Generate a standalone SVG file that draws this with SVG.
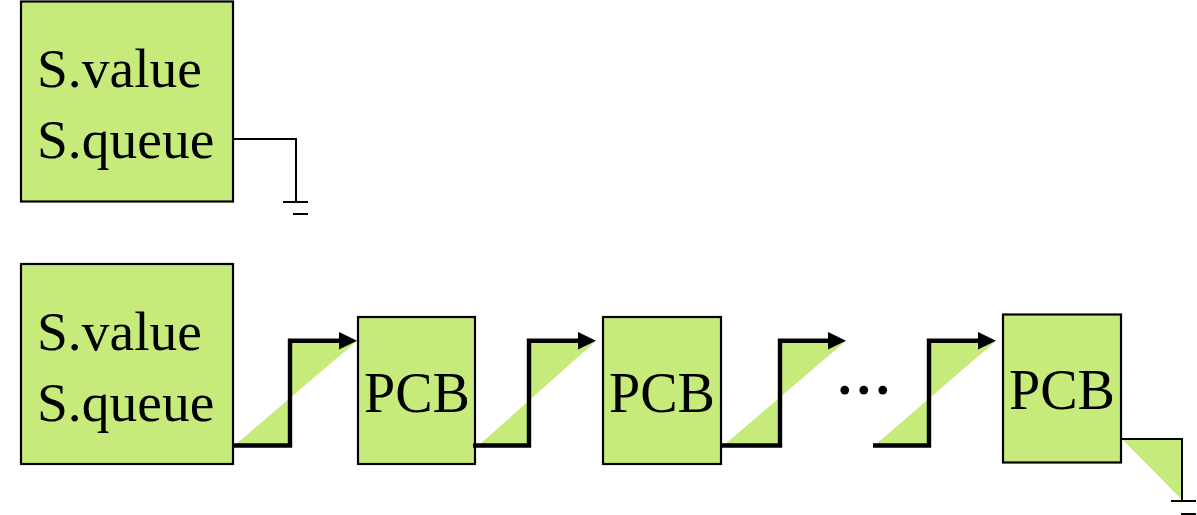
<svg xmlns="http://www.w3.org/2000/svg" width="1197" height="515" viewBox="0 0 1197 515">
<style>
.box{fill:#C7EB7B;stroke:#000;stroke-width:2.2}
.lbl{font-family:"Liberation Serif","Times New Roman",serif;font-size:55.5px;fill:#000}
.pcb{font-family:"Liberation Serif","Times New Roman",serif;font-size:56px;fill:#000;text-anchor:middle}
.dots{font-family:"Liberation Serif","Times New Roman",serif;font-size:74px;fill:#000;letter-spacing:0.5px}
.thick{fill:none;stroke:#000;stroke-width:4.4;stroke-linejoin:miter}
.thin{fill:none;stroke:#000;stroke-width:2}
.tri{fill:#C7EB7B;stroke:none}
.head{fill:#000}
</style>
<g id="sem1">
<rect class="box" x="21" y="1.5" width="212" height="200"/>
<text class="lbl" x="37" y="87">S.value</text>
<text class="lbl" x="37" y="158">S.queue</text>
</g>
<g id="sem2">
<rect class="box" x="21" y="264" width="212" height="200"/>
<text class="lbl" x="37" y="350">S.value</text>
<text class="lbl" x="37" y="421">S.queue</text>
</g>
<g id="pcb1">
<rect class="box" x="358" y="317" width="117" height="147"/>
<text class="pcb" x="417" y="412">PCB</text>
</g>
<g id="pcb2">
<rect class="box" x="603" y="317" width="118" height="147"/>
<text class="pcb" x="662" y="412">PCB</text>
</g>
<g id="pcb3">
<rect class="box" x="1003" y="314.5" width="118" height="148"/>
<text class="pcb" x="1062" y="409">PCB</text>
</g>
<g id="ellipsis">
<text class="dots" x="835.5" y="393.5">...</text>
</g>
<g id="connectors">
<polygon class="tri" points="235,445 290,445 290,341 357,341"/>
<path class="thick" d="M233,445.5 H290 V340.7 H343"/>
<polygon class="head" points="339,332 357,340.7 339,349.5"/>
<polygon class="tri" points="479,445 529,445 529,341 596,341"/>
<path class="thick" d="M473,445.5 H529 V340.7 H582"/>
<polygon class="head" points="578,332 596,340.7 578,349.5"/>
<polygon class="tri" points="724,445 780,445 780,341 846,341"/>
<path class="thick" d="M722,445.5 H780 V340.7 H832"/>
<polygon class="head" points="828,332 846,340.7 828,349.5"/>
<polygon class="tri" points="875,445 929,445 929,341 996,341"/>
<path class="thick" d="M873,445.5 H929 V340.7 H982"/>
<polygon class="head" points="978,332 996,340.7 978,349.5"/>
<path class="thin" d="M233,139 H296 V202"/>
<path class="thin" d="M283,202 H308 M293,214 H308"/>
<polygon class="tri" points="1122,439 1182,439 1182,500"/>
<path class="thin" d="M1121,439 H1182 V501"/>
<path class="thin" d="M1171,501 H1196 M1181,514 H1196"/>
</g>
</svg>
